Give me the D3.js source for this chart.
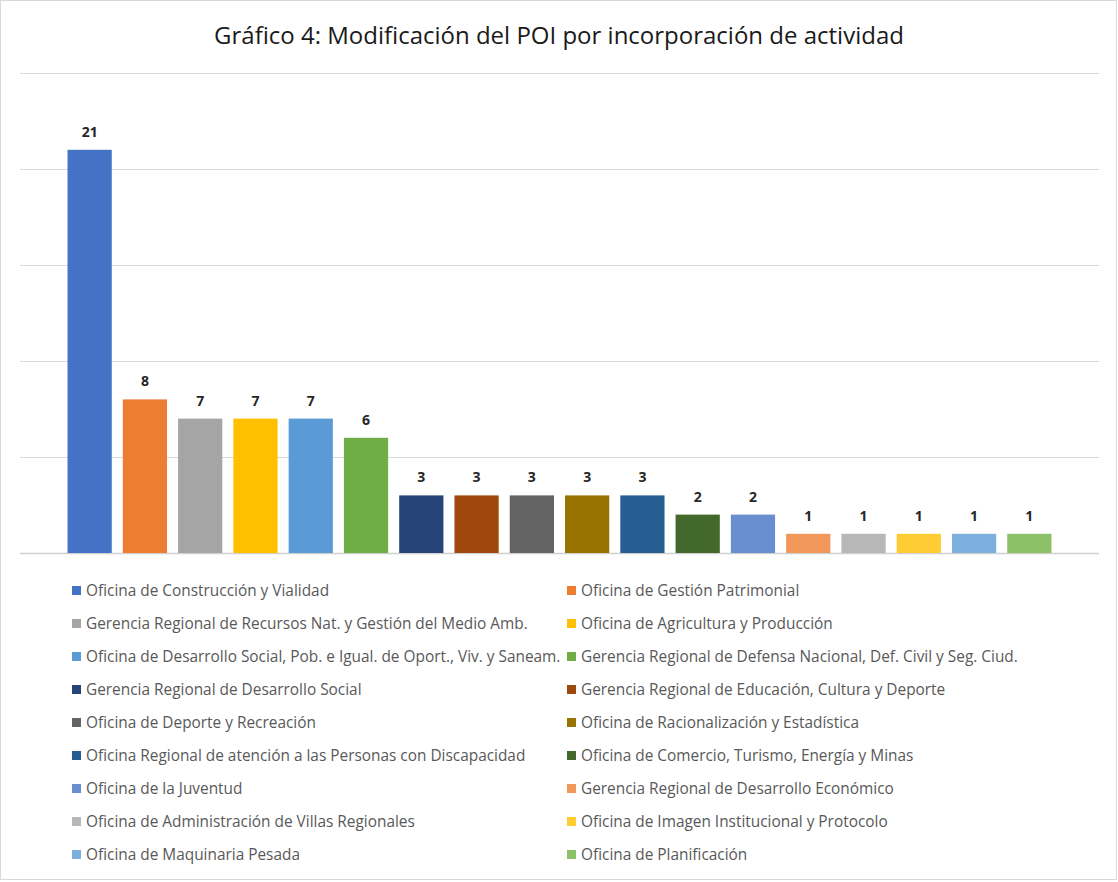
<!DOCTYPE html>
<html>
<head>
<meta charset="utf-8">
<script src="https://cdn.jsdelivr.net/npm/d3@7"></script>
<style>
  body { margin: 0; background: #fff; }
  svg { display: block; font-family: "Open Sans", "Noto Sans", sans-serif; }
</style>
</head>
<body>
<svg id="chart" width="1118" height="882"></svg>
<script>
const title = "Gráfico 4: Modificación del POI por incorporación de actividad";

const categories = [
  "Oficina de Construcción y Vialidad",
  "Oficina de Gestión Patrimonial",
  "Gerencia Regional de Recursos Nat. y Gestión del Medio Amb.",
  "Oficina de Agricultura y Producción",
  "Oficina de Desarrollo Social, Pob. e Igual. de Oport., Viv. y Saneam.",
  "Gerencia Regional de Defensa Nacional, Def. Civil y Seg. Ciud.",
  "Gerencia Regional de Desarrollo Social",
  "Gerencia Regional de Educación, Cultura y Deporte",
  "Oficina de Deporte y Recreación",
  "Oficina de Racionalización y Estadística",
  "Oficina Regional de atención a las Personas con Discapacidad",
  "Oficina de Comercio, Turismo, Energía y Minas",
  "Oficina de la Juventud",
  "Gerencia Regional de Desarrollo Económico",
  "Oficina de Administración de Villas Regionales",
  "Oficina de Imagen Institucional y Protocolo",
  "Oficina de Maquinaria Pesada",
  "Oficina de Planificación"
];

const values = [21, 8, 7, 7, 7, 6, 3, 3, 3, 3, 3, 2, 2, 1, 1, 1, 1, 1];

const colors = [
  "#4472C4", "#ED7D31", "#A5A5A5", "#FFC000", "#5B9BD5", "#70AD47",
  "#264478", "#9E480E", "#636363", "#997300", "#255E91", "#43682B",
  "#698ED0", "#F1975A", "#B7B7B7", "#FFCD33", "#7CAFDD", "#8CC168"
];

const gridTicks = [0, 5, 10, 15, 20, 25];

const width = 1118, height = 882;
const svg = d3.select("#chart");

// chart border
svg.append("rect")
  .attr("x", 0.5).attr("y", 0.5)
  .attr("width", 1116).attr("height", 879)
  .attr("fill", "#fff")
  .attr("stroke", "#d9d9d9");

// title
svg.append("text")
  .attr("x", 559).attr("y", 44)
  .attr("text-anchor", "middle")
  .attr("font-size", 24)
  .attr("fill", "#1a1a1a")
  .text(title);

const x = d3.scaleBand()
  .domain(categories)
  .range([62, 1057])
  .paddingInner(0.2)
  .paddingOuter(0.1);

const y = d3.scaleLinear()
  .domain([0, 25])
  .range([553, 73]);

// gridlines
svg.append("g")
  .selectAll("line")
  .data(gridTicks)
  .join("line")
  .attr("x1", 20).attr("x2", 1099)
  .attr("y1", d => Math.round(y(d)) + 0.5)
  .attr("y2", d => Math.round(y(d)) + 0.5)
  .attr("stroke", d => d === 0 ? "#d0d0d0" : "#d9d9d9")
  .attr("stroke-width", d => d === 0 ? 1.5 : 1);

// bars
svg.append("g")
  .selectAll("rect")
  .data(categories)
  .join("rect")
  .attr("x", d => x(d))
  .attr("width", x.bandwidth())
  .attr("y", (d, i) => y(values[i]))
  .attr("height", (d, i) => y(0) - y(values[i]))
  .attr("fill", (d, i) => colors[i]);

// data labels
svg.append("g")
  .selectAll("text")
  .data(categories)
  .join("text")
  .attr("x", d => x(d) + x.bandwidth() / 2)
  .attr("y", (d, i) => y(values[i]) - 13)
  .attr("text-anchor", "middle")
  .attr("font-size", 14)
  .attr("font-weight", "bold")
  .attr("fill", "#262626")
  .text((d, i) => values[i]);

// legend, two columns
const legend = svg.append("g");
const items = legend.selectAll("g")
  .data(categories)
  .join("g")
  .attr("transform", (d, i) => {
    const col = i % 2, row = Math.floor(i / 2);
    return `translate(${col === 0 ? 72 : 567},${591 + row * 33})`;
  });

items.append("rect")
  .attr("x", 0).attr("y", -5)
  .attr("width", 9).attr("height", 9)
  .attr("fill", (d, i) => colors[i]);

items.append("text")
  .attr("x", 14).attr("y", 0)
  .attr("dy", "0.35em")
  .attr("font-size", 15.4)
  .attr("fill", "#595959")
  .text(d => d);
</script>
</body>
</html>
